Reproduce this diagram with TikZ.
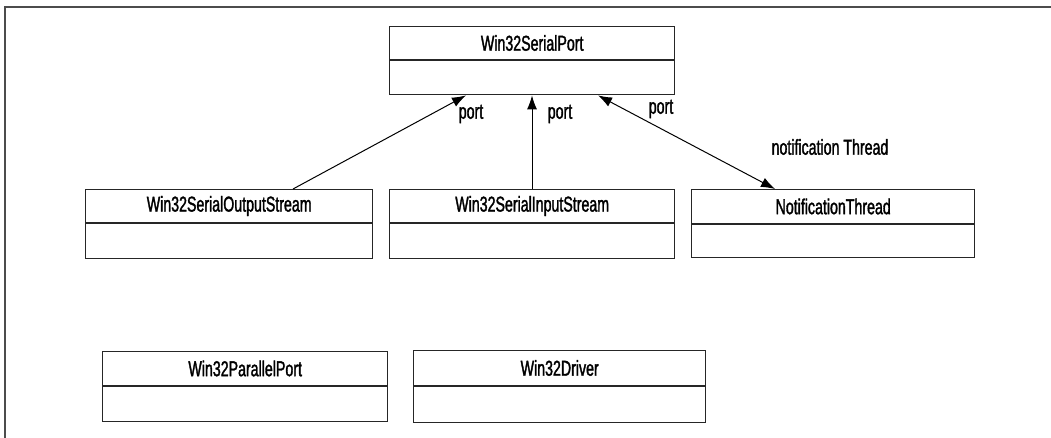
\documentclass[tikz,border=0pt]{standalone}
\usepackage{fontspec}
\setmainfont[FakeStretch=0.66,FakeBold=1.5]{Liberation Sans}
\usetikzlibrary{arrows.meta,calc}
\tikzset{
  cls/.style={draw=black!85, line width=1.4pt, anchor=north west, inner sep=0pt, fill=white},
  title/.style={font=\fontsize{21.5}{23}\selectfont, inner sep=0pt},
  lbl/.style={font=\fontsize{21.5}{23}\selectfont, inner sep=0pt},
  divider/.style={draw=black!85, line width=1.4pt},
  assoc/.style={draw=black, line width=1pt, -{Latex[length=14pt,width=10pt]}},
  bassoc/.style={draw=black, line width=1pt, {Latex[length=14pt,width=10pt]}-{Latex[length=14pt,width=10pt]}},
  frame/.style={draw=black!70, line width=2pt}
}
% \umlclass{name}{x}{y}{w}{h}{div offset}{text}
\newcommand{\umlclass}[7]{%
  \node[cls, minimum width=#4pt, minimum height=#5pt] (#1) at (#2pt,-#3pt) {};
  \node[title] (#1t) at ($(#1.north)+(0,-#6pt/2)$) {#7};
  \draw[divider] ($(#1.north west)+(0,-#6pt)$) -- ($(#1.north east)+(0,-#6pt)$);
}
\begin{document}
\begin{tikzpicture}[x=1pt,y=1pt]
\useasboundingbox (0,0) rectangle (1051,-438);
\coordinate (fa) at (5,-438);
\coordinate (fb) at (5,-7);
\coordinate (fc) at (1051,-7);
\draw[frame] (fa) -- (fb) -- (fc);

\umlclass{sp}{389}{26}{285}{68}{34}{Win32SerialPort}
\umlclass{os}{85}{189}{287}{69}{34}{Win32SerialOutputStream}
\umlclass{is}{389}{189}{285}{69}{34}{Win32SerialInputStream}
\umlclass{nt}{691}{189}{283}{68}{35}{NotificationThread}
\umlclass{pp}{102}{351}{285}{70}{35}{Win32ParallelPort}
\umlclass{dr}{413}{350}{292}{72}{36}{Win32Driver}

\draw[assoc] ($(os.north west)+(208,0)$) -- ($(sp.south west)+(77,0)$);
\draw[assoc] ($(is.north west)+(143,0)$) -- ($(sp.south west)+(143,0)$);
\draw[bassoc] ($(sp.south west)+(209,0)$) -- ($(nt.north west)+(84,0)$);

\node[lbl] (l1) at (471,-114) {port};
\node[lbl] (l2) at (560,-114) {port};
\node[lbl] (l3) at (661,-109) {port};
\node[lbl] (l4) at (830,-147) {notification Thread};
\end{tikzpicture}
\end{document}
